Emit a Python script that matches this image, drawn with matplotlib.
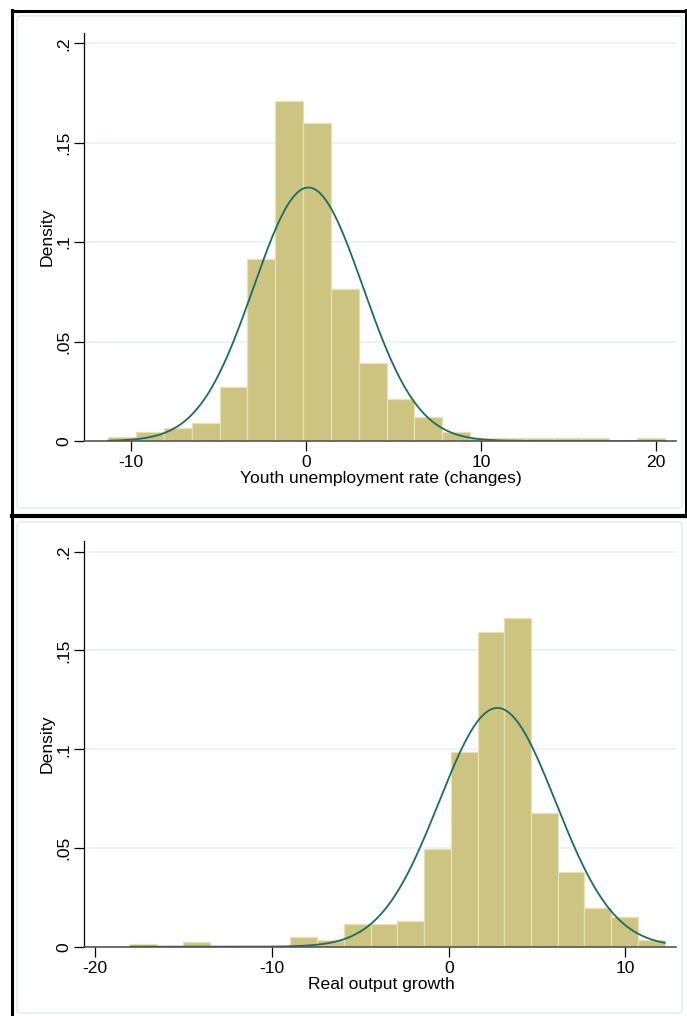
import numpy as np
import matplotlib
matplotlib.use("Agg")
import matplotlib.pyplot as plt
from matplotlib.patches import FancyBboxPatch
from matplotlib.lines import Line2D

plt.rcParams['font.family'] = ['Liberation Sans', 'DejaVu Sans']

# panel 1: youth unemployment rate (changes)
youth_range = (-11.30, 20.51)
youth_density = [0.0021, 0.0045, 0.0066, 0.0089, 0.0274, 0.0914, 0.1708, 0.1600,
                 0.0763, 0.0393, 0.0209, 0.0121, 0.0045, 0.0014, 0.0014, 0.0014,
                 0.0014, 0.0014, 0.0, 0.0014]
youth_mean, youth_sd = 0.13, 3.13

# panel 2: real output growth
growth_range = (-18.04, 12.22)
growth_density = [0.0014, 0.0, 0.0024, 0.0, 0.0, 0.0, 0.0048, 0.0034,
                  0.0115, 0.0115, 0.0128, 0.0496, 0.0987, 0.1595, 0.1663, 0.0675,
                  0.0377, 0.0194, 0.0149, 0.0032]
growth_mean, growth_sd = 2.75, 3.30

ytick_vals = [0, 0.05, 0.1, 0.15, 0.2]
ytick_labels = ["0", ".05", ".1", ".15", ".2"]

W, H = 687, 1016
fig = plt.figure(figsize=(W / 100, H / 100), dpi=100)

BAR = '#CCC480'
BAR_EDGE = '#E6E2B8'
CURVE = '#1E6B62'
GRID = '#EAF1F3'
FS = 12.6


def fx(px):
    return px / W


def fy(py):
    return 1 - py / H


# light inner panels
for top, bot in [(16, 508), (522, 1013)]:
    fig.add_artist(FancyBboxPatch((fx(17), fy(bot)), fx(682) - fx(17), fy(top) - fy(bot),
                                  boxstyle="round,pad=0,rounding_size=0.004",
                                  transform=fig.transFigure, facecolor='white',
                                  edgecolor='#E4EDF1', linewidth=1.2, zorder=0))

# black frame lines
frame = [((12, 12), (10, 1016)), ((12, 686), (10.5, 10.5)), ((685.5, 685.5), (10, 516)),
         ((12, 687), (516, 516))]
for xs, ys in frame:
    lw = 3.0 if ys == (516, 516) else 2.2
    fig.add_artist(Line2D([fx(x) for x in xs], [fy(y) for y in ys],
                          transform=fig.transFigure, color='black', linewidth=lw, zorder=5))


def panel(left, right, top, base, xlim, ylim, rng, dens, mu, sd, xticks, xlabel, xlabel_y):
    ax = fig.add_axes([fx(left), fy(base), fx(right) - fx(left), fy(top) - fy(base)])
    ax.set_facecolor('none')
    ax.set_xlim(*xlim)
    ax.set_ylim(*ylim)
    edges = np.linspace(rng[0], rng[1], len(dens) + 1)
    ax.bar(edges[:-1], dens, width=np.diff(edges), align='edge', color=BAR,
           edgecolor=BAR_EDGE, linewidth=0.9, zorder=2)
    xs = np.linspace(rng[0], rng[1], 400)
    ax.plot(xs, np.exp(-0.5 * ((xs - mu) / sd) ** 2) / (sd * np.sqrt(2 * np.pi)),
            color=CURVE, linewidth=1.3, zorder=3)
    for g in ytick_vals[1:]:
        ax.axhline(g, color=GRID, linewidth=1.2, zorder=1)
    for s in ['top', 'right']:
        ax.spines[s].set_visible(False)
    ax.spines['left'].set_linewidth(0.9)
    ax.spines['bottom'].set_color('#555555')
    ax.spines['bottom'].set_linewidth(1.2)
    ax.spines['bottom'].set_zorder(4)
    ax.set_yticks(ytick_vals)
    ax.set_yticklabels(ytick_labels, rotation=90, va='center')
    ax.set_xticks(xticks)
    ax.set_xticklabels([str(t) for t in xticks])
    ax.tick_params(axis='both', length=7, width=0.9, labelsize=FS)
    ax.tick_params(axis='x', pad=3)
    ax.tick_params(axis='y', pad=2)
    ax.set_ylabel("Density", fontsize=FS, labelpad=1)
    fig.text(fx(381), fy(xlabel_y), xlabel, ha='center', va='center', fontsize=FS)
    return ax


panel(84, 676, 33.3, 441, (-12.69, 21.14), (0, 0.205), youth_range, youth_density,
      youth_mean, youth_sd, [-10, 0, 10, 20], "Youth unemployment rate (changes)", 479)
panel(84, 676, 540.7, 946.7, (-20.64, 12.86), (0, 0.2056), growth_range, growth_density,
      growth_mean, growth_sd, [-20, -10, 0, 10], "Real output growth", 985)

fig.savefig("out.png", dpi=100)
